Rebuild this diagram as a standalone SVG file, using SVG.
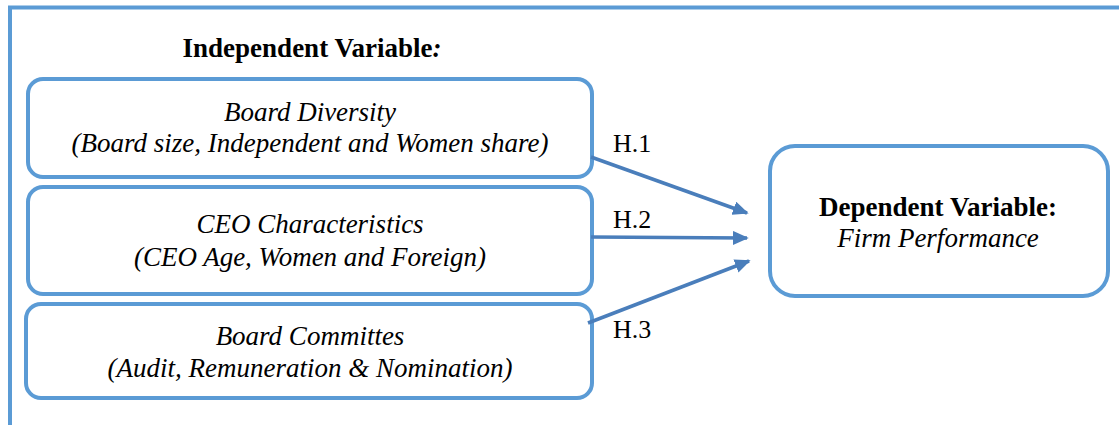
<svg xmlns="http://www.w3.org/2000/svg" width="1119" height="425" viewBox="0 0 1119 425">
<style>
.box{fill:#fff;stroke:#5B9BD5;stroke-width:4}
.t{font-family:"Liberation Serif","Times New Roman",serif;font-size:27px;fill:#000;text-anchor:middle}
.i{font-style:italic}
.b{font-weight:bold}
.h{font-family:"Liberation Serif","Times New Roman",serif;font-size:26px;fill:#000}
.c{stroke:#4A7EBB;stroke-width:3.5;fill:none;marker-end:url(#ah)}
</style>
<defs>
<marker id="ah" markerWidth="4.5" markerHeight="4" refX="4" refY="2" orient="auto" markerUnits="strokeWidth">
<path d="M0,0 L4.5,2 L0,4 z" fill="#4A7EBB"/>
</marker>
</defs>
<rect width="1119" height="425" fill="#fff"/>
<g id="frame">
<path d="M10,425 V7.5 H1119" fill="none" stroke="#5B9BD5" stroke-width="4"/>
</g>
<text class="t b" x="312" y="57">Independent Variable<tspan class="i">:</tspan></text>
<g id="board-diversity">
<rect class="box" x="28" y="79" width="564" height="98" rx="15"/>
<text class="t i" x="310" y="121">Board Diversity</text>
<text class="t i" x="310" y="152">(Board size, Independent and Women share)</text>
</g>
<g id="ceo">
<rect class="box" x="28" y="187" width="564" height="107" rx="15"/>
<text class="t i" x="310" y="233">CEO Characteristics</text>
<text class="t i" x="310" y="266">(CEO Age, Women and Foreign)</text>
</g>
<g id="committees">
<rect class="box" x="26" y="304" width="566" height="94" rx="15"/>
<text class="t i" x="310" y="345">Board Committes</text>
<text class="t i" x="310" y="377">(Audit, Remuneration &amp; Nomination)</text>
</g>
<g id="dependent">
<rect class="box" x="770" y="146" width="338" height="150" rx="25"/>
<text class="t b" x="938" y="216">Dependent Variable:</text>
<text class="t i" x="938" y="247">Firm Performance</text>
</g>
<g id="connectors">
<line class="c" x1="591" y1="157" x2="747" y2="213"/>
<line class="c" x1="591" y1="237" x2="747" y2="238"/>
<line class="c" x1="588" y1="323" x2="749" y2="261"/>
<text class="h" x="613" y="152">H.1</text>
<text class="h" x="613" y="228">H.2</text>
<text class="h" x="613" y="338">H.3</text>
</g>
</svg>
